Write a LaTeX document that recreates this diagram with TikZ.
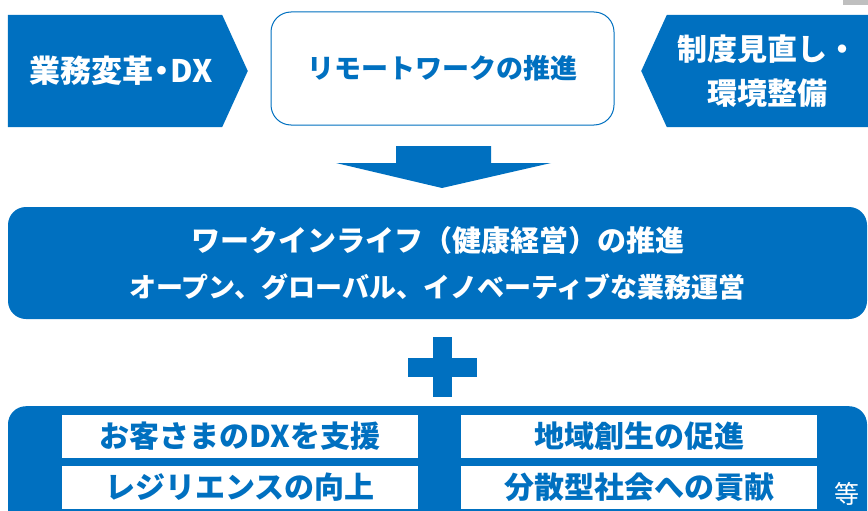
\documentclass[tikz,border=0pt]{standalone}
\usepackage{fontspec}
\setmainfont{Noto Sans CJK JP}
\usetikzlibrary{shapes.symbols,positioning}
\definecolor{dxblue}{HTML}{0070C0}

\begin{document}
\begin{tikzpicture}[x=1pt,y=-1pt,inner sep=0pt,font=\bfseries\fontsize{27}{34}\selectfont]
   \tikzstyle{pillar}=[signal,fill=dxblue,text=white,align=center,signal pointer angle=131,minimum height=112pt]
   \tikzstyle{band}=[fill=dxblue,rounded corners=18pt,minimum width=859pt]
   \tikzstyle{goal}=[fill=white,text=dxblue,minimum width=356pt,minimum height=43pt,font=\bfseries\fontsize{30}{34}\selectfont]
   \clip (0,0) rectangle (868,511);
   \fill[black!25] (843,0) rectangle (868,5);

   % top row
   \node[pillar,signal to=east,minimum width=240pt,font=\bfseries\fontsize{31}{36}\selectfont]
                                                     (dx)     at (115,71)  {\hspace*{12pt}業務変革\kern-7pt・\kern-7pt DX};
   \node[draw=dxblue,line width=1pt,rounded corners=20pt,fill=white,text=dxblue,
         minimum width=343pt,minimum height=113pt]   (remote) at (442.5,68.5) {リモートワークの推進};
   \node[pillar,signal to=west,minimum width=227pt,font=\bfseries\fontsize{30}{44}\selectfont]
                                                     (rules)  at (767.5,71) {制度見直し・\\環境整備};

   % block arrow down
   \fill[dxblue] (396,146) -- (491,146) -- (491,163) -- (551,163) -- (442,188)
                 -- (336,163) -- (396,163) -- cycle;

   % middle band
   \node[band,text=white,align=center,minimum height=112pt,font=\bfseries\fontsize{27}{46}\selectfont]
       (life) at (437.5,263) {{\fontsize{29}{46}\selectfont ワークインライフ（健康経営）の推進}\\オープン、グローバル、イノベーティブな業務運営};

   % plus
   \fill[dxblue] (433,337) rectangle (452,397);
   \fill[dxblue] (408,358) rectangle (477,377);

   % bottom band
   \node[band,minimum height=150pt,anchor=north] (base) at (437.5,406) {};
   \node[goal] (cust)   at (240,436.5) {お客さまのDXを支援};
   \node[goal] (region) at (639,436.5) {地域創生の促進};
   \node[goal] (resil)  at (240,487)   {レジリエンスの向上};
   \node[goal] (dist)   at (639,487)   {分散型社会への貢献};
   \node[text=white,font=\mdseries\fontsize{25}{25}\selectfont] (etc) at (846.5,494) {等};
\end{tikzpicture}
\end{document}
